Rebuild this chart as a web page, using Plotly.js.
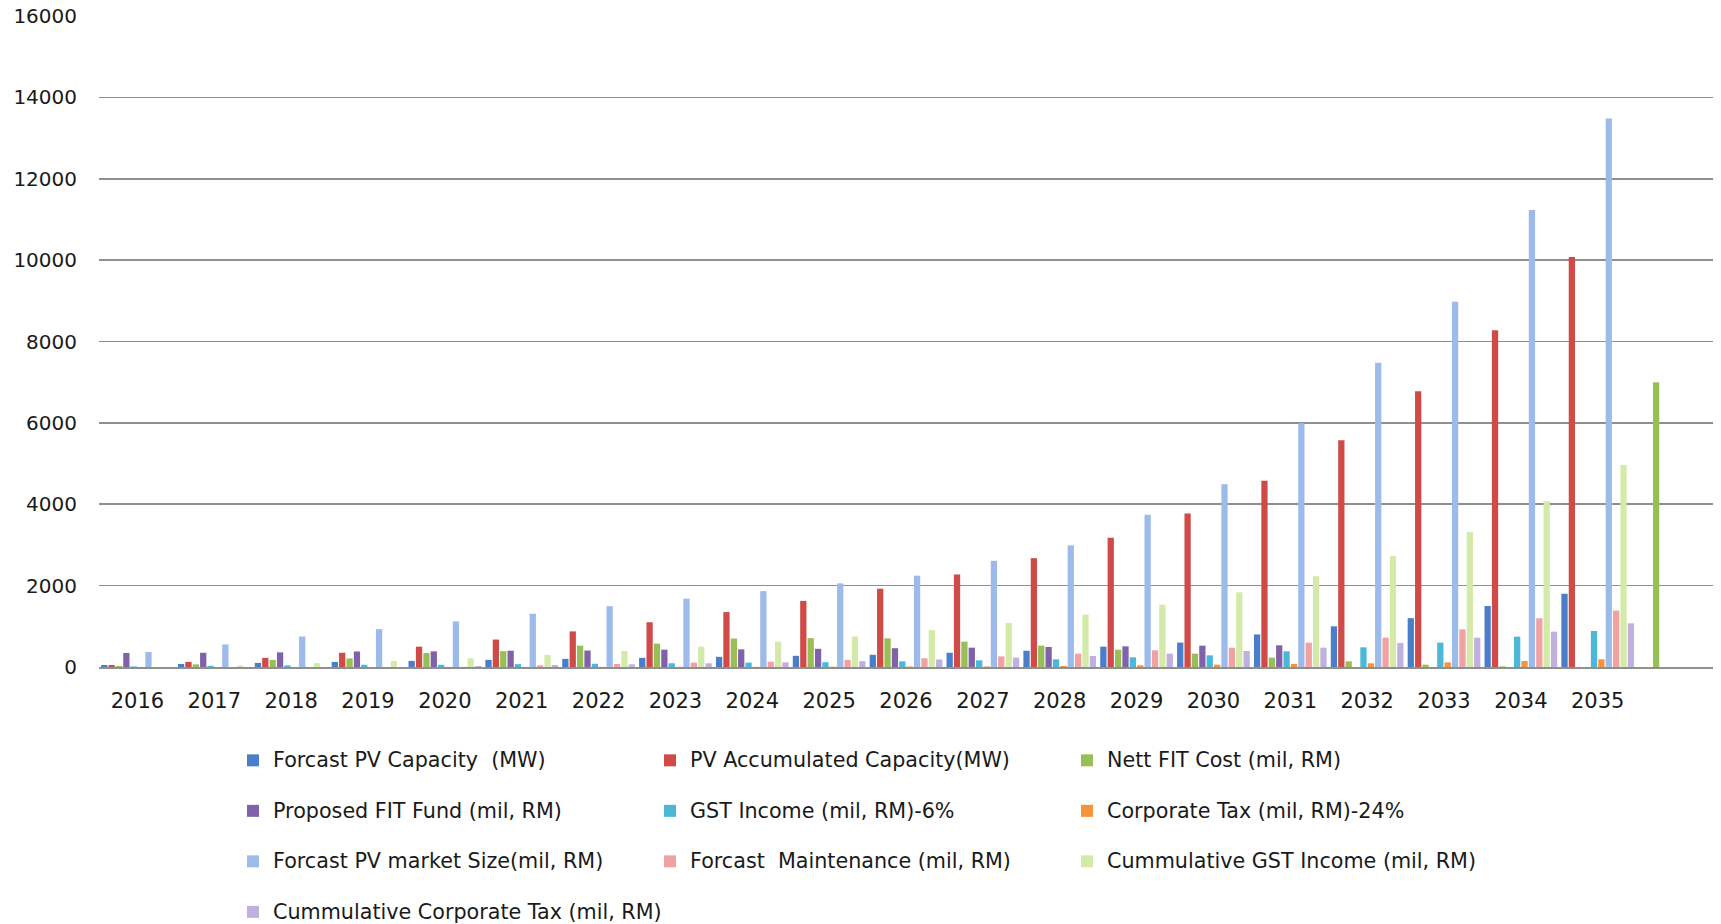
<!DOCTYPE html>
<html>
<head>
<meta charset="utf-8">
<script src="https://cdn.plot.ly/plotly-3.0.1.min.js"></script>
<style>
  html, body { margin: 0; padding: 0; background: #ffffff; }
  #chart { width: 1721px; height: 924px; }
</style>
</head>
<body>
<div id="chart"></div>
<script>
// Categories (the last, unlabelled category holds only the Nett FIT Cost total)
const years = ['2016','2017','2018','2019','2020','2021','2022','2023','2024','2025',
               '2026','2027','2028','2029','2030','2031','2032','2033','2034','2035',' '];

// Series values
const pvCapacity      = [50,75,100,125,150,175,200,225,250,275,300,350,400,500,600,800,1000,1200,1500,1800,0];
const pvAccumulated   = [50,125,225,350,500,675,875,1100,1350,1625,1925,2275,2675,3175,3775,4575,5575,6775,8275,10075,0];
const nettFitCost     = [25,65,175,210,345,390,525,575,700,710,705,623,525,426,328,230,139,57,16,0,7000];
const proposedFitFund = [345,350,360,382,385,400,405,426,434,447,462,475,492,508,525,533,0,0,0,0,0];
const gstIncome       = [15,30,40,55,55,70,80,92,107,118,140,164,189,238,287,385,484,598,746,885,0];
const corporateTax    = [0,0,0,0,2,2,3,4,5,8,12,14,25,41,57,74,90,115,148,189,0];
const pvMarketSize    = [370,555,750,930,1120,1310,1495,1680,1865,2055,2245,2610,2990,3740,4490,5990,7480,8980,11230,13480,0];
const maintenance     = [0,0,0,0,5,41,74,107,131,175,215,262,328,410,475,598,721,926,1197,1385,0];
const cumGstIncome    = [0,40,95,148,213,295,393,500,623,750,905,1082,1287,1533,1836,2230,2725,3319,4074,4965,0];
const cumCorporateTax = [0,0,0,0,25,49,66,90,115,144,185,230,270,328,393,475,590,721,869,1074,0];

const seriesNames = [
  'Forcast PV Capacity \u00a0(MW)',
  'PV Accumulated Capacity(MW)',
  'Nett FIT Cost (mil, RM)',
  'Proposed FIT Fund (mil, RM)',
  'GST Income (mil, RM)-6%',
  'Corporate Tax (mil, RM)-24%',
  'Forcast PV market Size(mil, RM)',
  'Forcast \u00a0Maintenance (mil, RM)',
  'Cummulative GST Income (mil, RM)',
  'Cummulative Corporate Tax (mil, RM)'
];
const seriesValues = [pvCapacity, pvAccumulated, nettFitCost, proposedFitFund, gstIncome,
                      corporateTax, pvMarketSize, maintenance, cumGstIncome, cumCorporateTax];
const seriesColors = ['#4a7ec9','#d04a48','#98bf55','#8062aa','#4bb8d8',
                      '#f7923e','#9dbbea','#f0a2a2','#d4eaa8','#bfb0dd'];

const FONT = '"DejaVu Sans", "Liberation Sans", sans-serif';

const traces = seriesNames.map((name, i) => ({
  type: 'bar',
  x: years,
  y: seriesValues[i],
  name: '<span style="font-size:20.7px">' + name + '</span><br> ',
  marker: { color: seriesColors[i], line: { width: 0 } },
  hoverinfo: 'x+y'
}));

const layout = {
  width: 1721,
  height: 924,
  paper_bgcolor: '#ffffff',
  plot_bgcolor: '#ffffff',
  margin: { l: 99, r: 8, t: 16, b: 257, pad: 0 },
  barmode: 'group',
  bargap: 0.04,
  bargroupgap: 0.15,
  font: { family: FONT, color: '#1a1a1a' },
  xaxis: {
    type: 'category',
    showgrid: false,
    showline: true,
    linecolor: '#8f8f8f',
    linewidth: 2,
    ticks: '',
    ticklabelstandoff: 14,
    tickfont: { family: FONT, size: 21, color: '#1a1a1a' },
    fixedrange: true
  },
  yaxis: {
    range: [0, 16000],
    dtick: 2000,
    tick0: 0,
    tickformat: 'd',
    showgrid: true,
    gridcolor: '#8f8f8f',
    gridwidth: 1.6,
    zeroline: false,
    showline: false,
    ticks: '',
    ticklabelstandoff: 21,
    tickfont: { family: FONT, size: 20, color: '#1a1a1a' },
    fixedrange: true
  },
  showlegend: true,
  legend: {
    orientation: 'h',
    xref: 'container',
    yref: 'container',
    x: 233 / 1721,
    xanchor: 'left',
    y: 0.197,
    yanchor: 'top',
    entrywidth: 372,
    entrywidthmode: 'pixels',
    valign: 'top',
    traceorder: 'normal',
    font: { family: FONT, size: 18.27, color: '#1a1a1a' },
    bgcolor: 'rgba(0,0,0,0)'
  }
};

Plotly.newPlot('chart', traces, layout, { displayModeBar: false, staticPlot: true });
</script>
</body>
</html>
